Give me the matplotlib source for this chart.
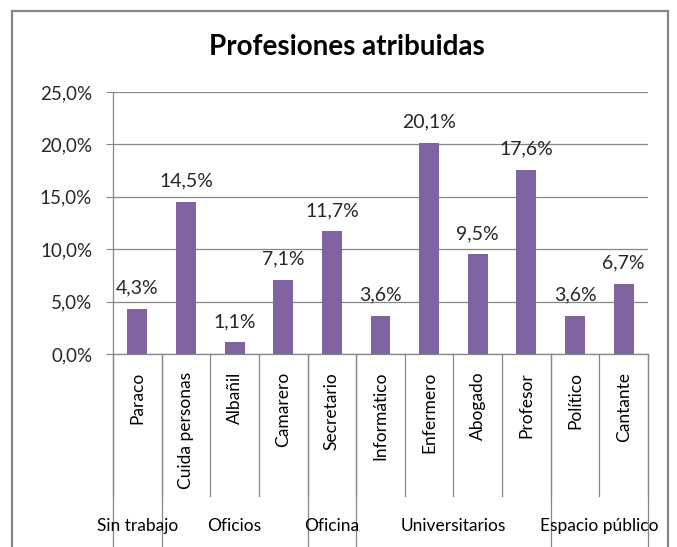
import matplotlib
matplotlib.use("Agg")
import matplotlib.pyplot as plt
from matplotlib.patches import Rectangle
import matplotlib.transforms as mtransforms
from matplotlib.ticker import FuncFormatter

plt.rcParams['font.family'] = ['Lato', 'DejaVu Sans']

categories = ["Paraco", "Cuida personas", "Albañil", "Camarero", "Secretario",
              "Informático", "Enfermero", "Abogado", "Profesor", "Político", "Cantante"]
values = [4.3, 14.5, 1.1, 7.1, 11.7, 3.6, 20.1, 9.5, 17.6, 3.6, 6.7]
group_names = ["Sin trabajo", "Oficios", "Oficina", "Universitarios", "Espacio público"]
group_sizes = [1, 3, 1, 4, 2]
yticks = [0, 5, 10, 15, 20, 25]

W, H = 677, 547
fig = plt.figure(figsize=(W / 100, H / 100), dpi=100)

# outer chart border
fig.patches.append(Rectangle((12 / W, -0.05), (668 - 12) / W, 1.05 - 11 / H,
                             transform=fig.transFigure, fill=False,
                             edgecolor="#868686", linewidth=1.6))

left, right, bottom, top = 113, 648, 354, 92
ax = fig.add_axes([left / W, 1 - bottom / H, (right - left) / W, (bottom - top) / H])

x = list(range(len(categories)))
bars = ax.bar(x, values, width=0.41, color="#8064A2", zorder=3)
ax.set_xlim(-0.5, len(categories) - 0.5)
ax.set_ylim(0, 25)
ax.set_yticks(yticks)
ax.yaxis.set_major_formatter(FuncFormatter(lambda v, p: f"{v:.1f}%".replace(".", ",")))
ax.grid(axis="y", color="#868686", linewidth=0.9, zorder=0)
for s in ["top", "right"]:
    ax.spines[s].set_visible(False)
for s in ["left", "bottom"]:
    ax.spines[s].set_color("#868686")
    ax.spines[s].set_linewidth(0.9)
ax.tick_params(axis="y", length=5, color="#868686", labelsize=13.5, pad=10, labelcolor="#262626")
ax.tick_params(axis="x", length=0, labelbottom=False)

for xi, v in zip(x, values):
    ax.annotate(f"{v:.1f}%".replace(".", ","), (xi, v), xytext=(0, 9),
                textcoords="offset points", ha="center", va="bottom",
                fontsize=14, color="#262626")

trans = mtransforms.blended_transform_factory(ax.transData, ax.transAxes)
# category divider lines
for i in range(len(categories) + 1):
    ax.plot([i - 0.5, i - 0.5], [0, -0.542], transform=trans, color="#868686",
            linewidth=0.9, clip_on=False)
# group divider lines
b = 0
bounds = [0]
for g in group_sizes:
    b += g
    bounds.append(b)
for bb in bounds:
    ax.plot([bb - 0.5, bb - 0.5], [0, -0.8], transform=trans, color="#868686",
            linewidth=0.9, clip_on=False)

# category labels
for xi, c in zip(x, categories):
    ax.text(xi, -0.068, c, transform=trans, rotation=90, ha="center", va="top",
            fontsize=12.5, color="black")

# group labels
for name, s, e in zip(group_names, bounds[:-1], bounds[1:]):
    cx = (s + e - 1) / 2
    ax.text(cx, -0.655, name, transform=trans, ha="center", va="center",
            fontsize=12.5, color="black")

fig.text(347 / W, 1 - 47 / H, "Profesiones atribuidas", ha="center", va="center",
         fontsize=20, fontweight="bold", color="black")

fig.savefig("out.png", dpi=100)
